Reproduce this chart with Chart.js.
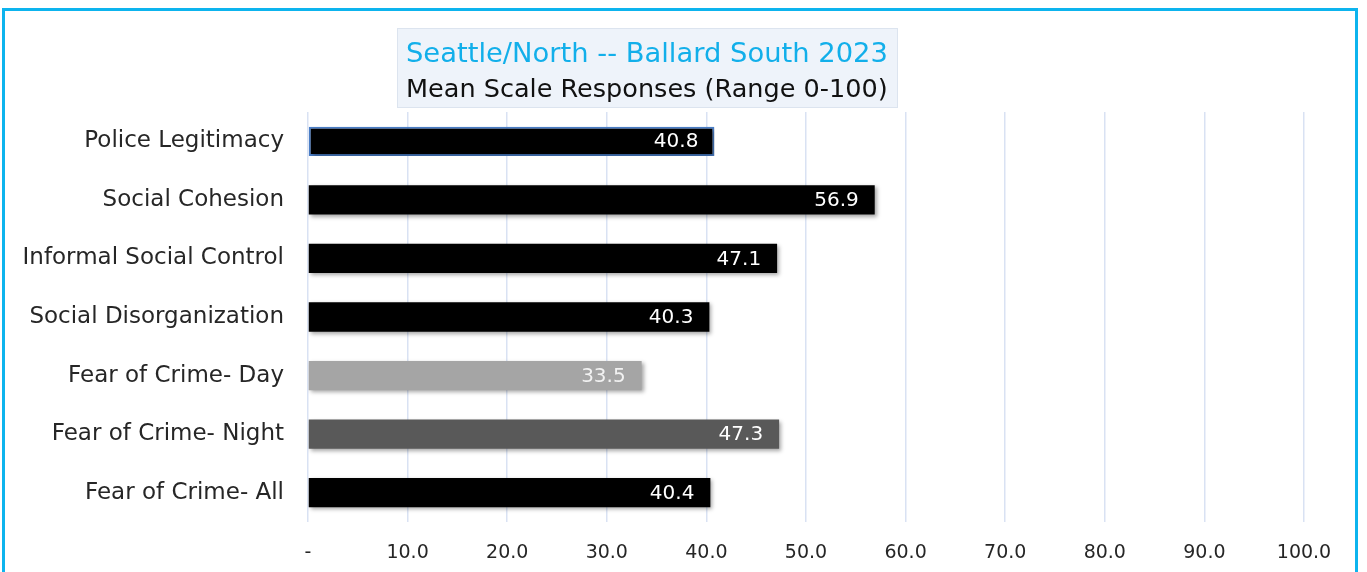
<!DOCTYPE html>
<html>
<head>
<meta charset="utf-8">
<script src="https://cdn.jsdelivr.net/npm/chart.js@4.4.0/dist/chart.umd.min.js"></script>
<style>
  html, body { margin: 0; padding: 0; background: #fff; overflow: hidden; }
  #wrap { position: relative; width: 1367px; height: 572px; }
  #frame { position: absolute; left: 2px; top: 8px; width: 1350px; height: 600px;
           border: 3px solid #0DB4EE; box-sizing: content-box; pointer-events: none; }
  canvas { position: absolute; left: 0; top: 0; }
</style>
</head>
<body>
<div id="wrap">
  <canvas id="chart" width="1367" height="572"></canvas>
  <div id="frame"></div>
</div>
<script>
// --- data ---
const categories = [
  'Police Legitimacy',
  'Social Cohesion',
  'Informal Social Control',
  'Social Disorganization',
  'Fear of Crime- Day',
  'Fear of Crime- Night',
  'Fear of Crime- All'
];
const meanScores = [40.8, 56.9, 47.1, 40.3, 33.5, 47.3, 40.4];
const barColors = ['#000000', '#000000', '#000000', '#000000', '#A5A5A5', '#595959', '#000000'];
const xTicks = [0, 10, 20, 30, 40, 50, 60, 70, 80, 90, 100];
const titleLines = ['Seattle/North -- Ballard South 2023', 'Mean Scale Responses (Range 0-100)'];

const FONT = '"DejaVu Sans", sans-serif';
const gridColor = '#D9E2F3';

// fits text to a given width by picking font size
function fitFont(ctx, text, width) {
  ctx.font = '20px ' + FONT;
  const w = ctx.measureText(text).width;
  return 20 * width / w;
}

const titleBox = {
  id: 'titleBox',
  afterDraw(chart) {
    const ctx = chart.ctx;
    ctx.save();
    ctx.fillStyle = '#EEF3FA';
    ctx.fillRect(397, 28, 501, 80);
    ctx.strokeStyle = '#DCE4EF';
    ctx.lineWidth = 1;
    ctx.strokeRect(397.5, 28.5, 500, 79);
    ctx.textAlign = 'left';
    ctx.textBaseline = 'alphabetic';
    let s1 = fitFont(ctx, titleLines[0], 482);
    ctx.font = s1 + 'px ' + FONT;
    ctx.fillStyle = '#12AFEA';
    ctx.fillText(titleLines[0], 406, 62);
    let s2 = fitFont(ctx, titleLines[1], 482);
    ctx.font = s2 + 'px ' + FONT;
    ctx.fillStyle = '#111111';
    ctx.fillText(titleLines[1], 406, 97);
    ctx.restore();
  }
};

const barShadow = {
  id: 'barShadow',
  beforeDatasetDraw(chart) {
    const ctx = chart.ctx;
    ctx.save();
    ctx.shadowColor = 'rgba(0,0,0,0.35)';
    ctx.shadowBlur = 4;
    ctx.shadowOffsetX = 2;
    ctx.shadowOffsetY = 2;
  },
  afterDatasetDraw(chart) {
    chart.ctx.restore();
  }
};

const valueLabels = {
  id: 'valueLabels',
  afterDatasetsDraw(chart) {
    const ctx = chart.ctx;
    const meta = chart.getDatasetMeta(0);
    ctx.save();
    ctx.font = '20px ' + FONT;
    ctx.textAlign = 'right';
    ctx.textBaseline = 'middle';
    meta.data.forEach((bar, i) => {
      ctx.fillStyle = i === 4 ? '#F2F2F2' : '#FFFFFF';
      ctx.fillText(meanScores[i].toFixed(1), bar.x - 16, bar.y + 1);
    });
    ctx.restore();
  }
};

new Chart(document.getElementById('chart'), {
  type: 'bar',
  data: {
    labels: categories,
    datasets: [{
      data: meanScores,
      backgroundColor: barColors,
      borderColor: meanScores.map((v, i) => i === 0 ? '#4A7EC8' : 'rgba(0,0,0,0)'),
      borderWidth: meanScores.map((v, i) => i === 0 ? 2 : 0),
      borderSkipped: false,
      categoryPercentage: 1,
      barPercentage: 0.5
    }]
  },
  options: {
    indexAxis: 'y',
    responsive: false,
    animation: false,
    layout: { padding: { top: 112, right: 63, left: 0, bottom: 0 } },
    plugins: {
      legend: { display: false },
      tooltip: { enabled: false }
    },
    scales: {
      x: {
        min: 0,
        max: 100,
        afterBuildTicks: (scale) => { scale.ticks = xTicks.map(v => ({ value: v })); },
        afterFit: (scale) => { scale.height = 50; },
        grid: { color: gridColor, lineWidth: 1.5, drawTicks: false },
        border: { display: false },
        ticks: {
          padding: 20,
          color: '#262626',
          font: { family: FONT, size: 19 },
          callback: (v) => v === 0 ? '-' : v.toFixed(1)
        }
      },
      y: {
        afterFit: (scale) => { scale.width = 308; },
        grid: { display: false, drawTicks: false },
        border: { display: false },
        ticks: {
          padding: 24,
          color: '#262626',
          font: { family: FONT, size: 23 }
        }
      }
    }
  },
  plugins: [barShadow, valueLabels, titleBox]
});
</script>
</body>
</html>
